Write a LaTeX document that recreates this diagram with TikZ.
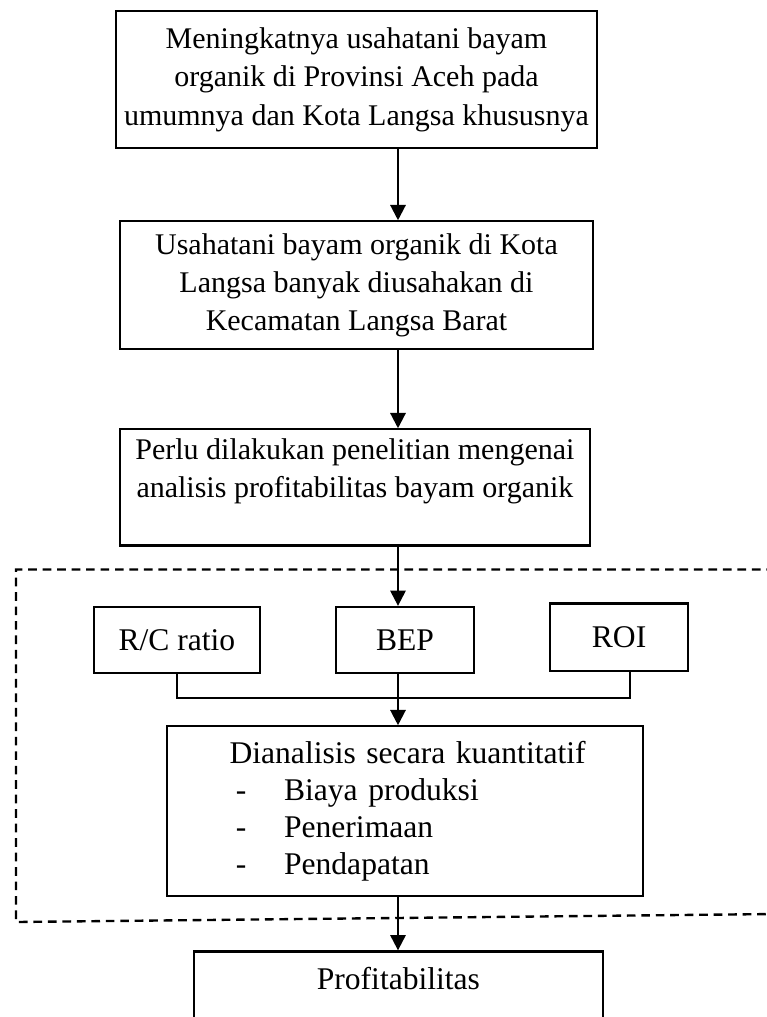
\documentclass[tikz,border=0pt]{standalone}
\usepackage{fontspec}
\setmainfont{Liberation Serif}
\usetikzlibrary{positioning,arrows.meta}

\newcommand{\itemdash}{\hspace*{26.2pt}\makebox[18.3pt][l]{-}}

\begin{document}
\begin{tikzpicture}[
  x=0.38pt, y=-0.38pt,
  box/.style={draw, line width=0.85pt, align=center, inner xsep=2pt, inner ysep=0pt, font=\fontsize{12}{14.1}\selectfont},
  topbox/.style={box, font=\fontsize{11.4}{14.6}\selectfont},
  arr/.style={-{Triangle[length=5.8pt,width=5.8pt]}, line width=0.85pt},
  link/.style={line width=0.85pt},
  frame/.style={dash pattern=on 3.3pt off 2.2pt, line width=0.9pt}
]
\useasboundingbox (0,0) rectangle (767,1017);
\clip (0,0) rectangle (767,1017);

\node[topbox, minimum width=182.8pt, minimum height=52.1pt] (top) at (356.5,79.5) {Meningkatnya usahatani bayam\\organik di Provinsi Aceh pada\\umumnya dan Kota Langsa khususnya};
\node[topbox, minimum width=179.7pt, minimum height=48.6pt, below=27pt of top] (usaha) {Usahatani bayam organik di Kota\\Langsa banyak diusahakan di\\Kecamatan Langsa Barat};
\node[topbox, minimum width=178.6pt, minimum height=44.1pt, below=29.6pt of usaha, xshift=-0.6pt] (perlu) {Perlu dilakukan penelitian mengenai\\analisis profitabilitas bayam organik\\~};

% dashed frame, open on the right
\draw[frame] (775,569.5) -- (16,569.5) -- (16,922) -- (775,914);

\node[box, minimum width=52.4pt, minimum height=25.1pt] (bep) at (405,640) {BEP};
\node[box, minimum width=63.1pt, minimum height=25.1pt, left=28.1pt of bep] (rc) {R/C ratio};
\node[box, minimum width=52.4pt, minimum height=25.5pt, right=28.1pt of bep, yshift=1.1pt] (roi) {ROI};

\node[box, align=left, inner xsep=0pt, text width=180.9pt, minimum height=64.6pt, below=19.4pt of bep] (dian) {\hspace*{23.8pt}Dianalisis secara kuantitatif\\
\itemdash Biaya produksi\\
\itemdash Penerimaan\\
\itemdash Pendapatan};

\node[box, minimum width=155.4pt, minimum height=34.2pt, below=20.1pt of dian, xshift=-2.5pt] (prof) {Profitabilitas\\~};

\coordinate (spine) at (398,0);
\coordinate (join) at (630,698);

\draw[arr] (top.south -| spine) -- (usaha.north -| spine);
\draw[arr] (usaha.south -| spine) -- (perlu.north -| spine);
\draw[arr] (perlu.south -| spine) -- (bep.north -| spine);
\draw[arr] (bep.south -| spine) -- (dian.north -| spine);
\draw[link] (rc.south) |- (join) -- (roi.south -| join);
\draw[arr] (dian.south -| spine) -- (prof.north -| spine);
\end{tikzpicture}
\end{document}
